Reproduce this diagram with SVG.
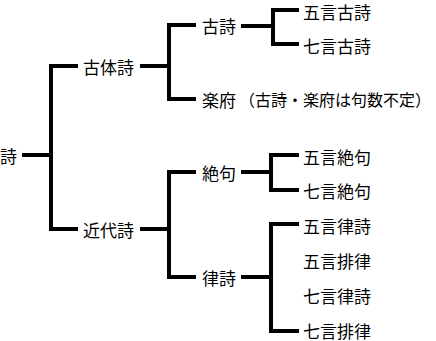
<svg xmlns="http://www.w3.org/2000/svg" width="436" height="341" viewBox="0 0 436 341">
<style>
  text { font-family: "Noto Sans CJK JP", "Noto Sans CJK SC", sans-serif; font-size: 17px; fill: #000; dominant-baseline: central; }
  text.note { font-size: 16px; }
  .c path { fill: none; stroke: #000; stroke-width: 4; stroke-linecap: butt; stroke-linejoin: miter; }
</style>
<rect width="436" height="341" fill="#fff"/>
<g class="c" id="connectors">
  <path d="M22 155 H51"/>
  <path d="M78 66 H51 V229 H78"/>
  <path d="M140 66 H169"/>
  <path d="M196 25 H169 V99 H196"/>
  <path d="M241 26 H273"/>
  <path d="M299 10 H273 V44 H299"/>
  <path d="M140 229 H169"/>
  <path d="M196 172 H169 V277 H196"/>
  <path d="M241 172 H271"/>
  <path d="M299 155 H271 V190 H299"/>
  <path d="M241 277 H271"/>
  <path d="M299 224 H271 V331 H299"/>
</g>
<g id="n-root"><text x="0" y="155">詩</text></g>
<g id="n-kotaishi"><text x="83" y="66">古体詩</text></g>
<g id="n-kindaishi"><text x="83" y="229">近代詩</text></g>
<g id="n-koshi"><text x="202" y="25">古詩</text></g>
<g id="n-gakufu"><text x="202" y="99">楽府</text><text class="note" x="239" y="99">（古詩・楽府は句数不定）</text></g>
<g id="n-zekku"><text x="202" y="172">絶句</text></g>
<g id="n-risshi"><text x="202" y="277">律詩</text></g>
<g id="n-gogonkoshi"><text x="303" y="11">五言古詩</text></g>
<g id="n-shichigonkoshi"><text x="303" y="45">七言古詩</text></g>
<g id="n-gogonzekku"><text x="303" y="156">五言絶句</text></g>
<g id="n-shichigonzekku"><text x="303" y="190">七言絶句</text></g>
<g id="n-gogonrisshi"><text x="303" y="225">五言律詩</text></g>
<g id="n-gogonhairitsu"><text x="303" y="260">五言排律</text></g>
<g id="n-shichigonrisshi"><text x="303" y="295">七言律詩</text></g>
<g id="n-shichigonhairitsu"><text x="303" y="330">七言排律</text></g>
</svg>
